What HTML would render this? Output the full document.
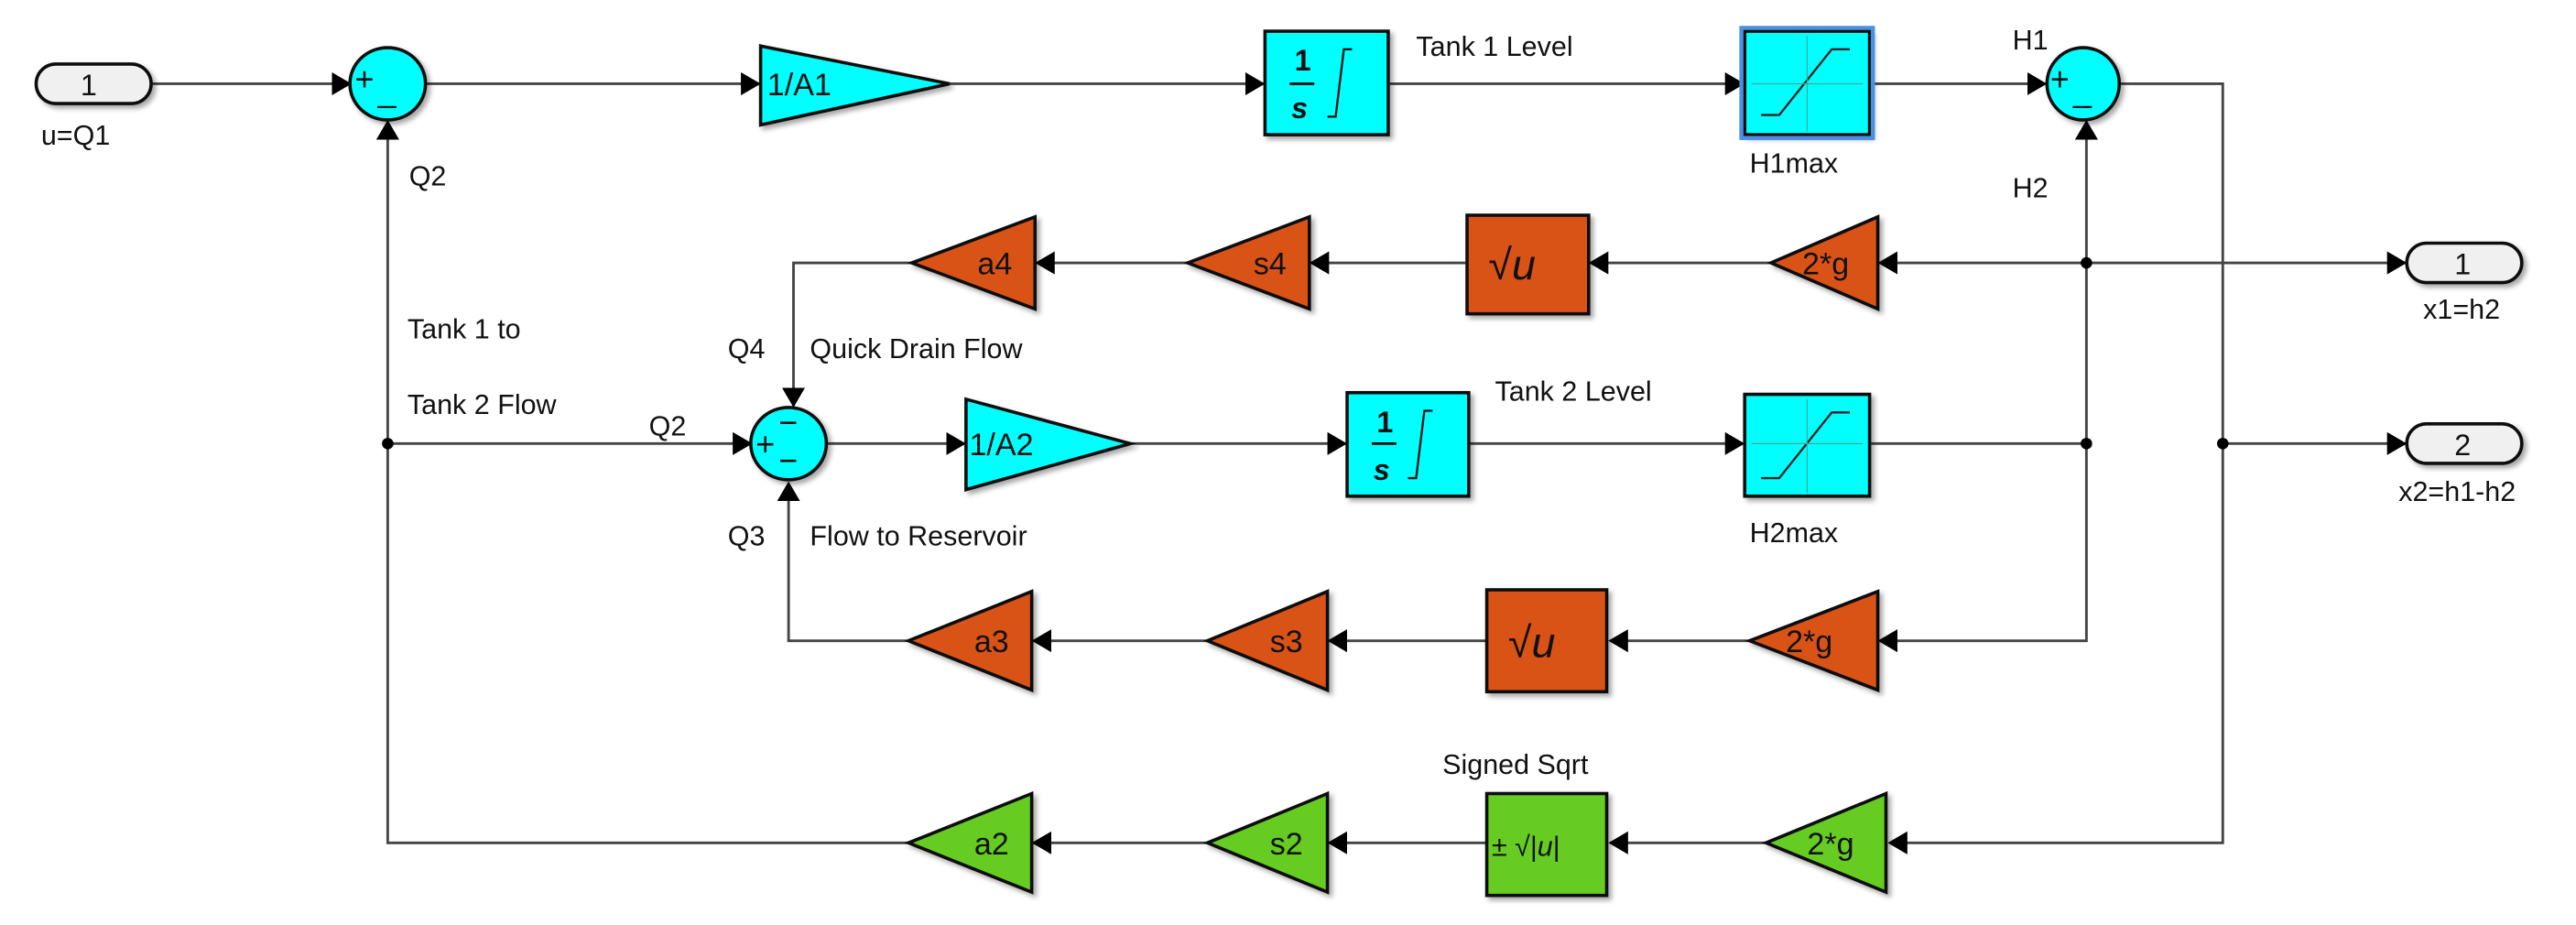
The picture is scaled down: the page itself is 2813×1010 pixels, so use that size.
<!DOCTYPE html>
<html><head><meta charset="utf-8"><style>
html,body{margin:0;padding:0;background:#fff;}
svg{display:block}
text{font-family:"Liberation Sans",sans-serif;fill:#111;}
</style></head><body>
<svg width="2813" height="1010" viewBox="0 0 1568 563" preserveAspectRatio="none" xmlns="http://www.w3.org/2000/svg">
<defs>
<marker id="a" markerWidth="12" markerHeight="14" refX="11" refY="7" orient="auto" markerUnits="userSpaceOnUse"><path d="M0,0 L12,7 L0,14 Z" fill="#000"/></marker>
<filter id="sh" x="-10%" y="-10%" width="130%" height="130%"><feDropShadow dx="2" dy="2" stdDeviation="1.5" flood-color="#000" flood-opacity="0.35"/></filter>
</defs>
<g stroke="#444" stroke-width="1.6" fill="none">
<line x1="92" y1="51" x2="213" y2="51" marker-end="url(#a)"/>
<line x1="259" y1="51" x2="462" y2="51" marker-end="url(#a)"/>
<line x1="578" y1="51" x2="769" y2="51" marker-end="url(#a)"/>
<line x1="846" y1="51" x2="1061" y2="51" marker-end="url(#a)"/>
<line x1="1139" y1="51" x2="1245" y2="51" marker-end="url(#a)"/>
<polyline points="1291,51 1353,51 1353,513 1150,513" marker-end="url(#a)"/>
<line x1="1353" y1="270" x2="1464" y2="270" marker-end="url(#a)"/>
<line x1="1270" y1="270" x2="1270" y2="74" marker-end="url(#a)"/>
<line x1="1270" y1="160" x2="1464" y2="160" marker-end="url(#a)"/>
<line x1="1270" y1="160" x2="1144" y2="160" marker-end="url(#a)"/>
<line x1="1078" y1="160" x2="968" y2="160" marker-end="url(#a)"/>
<line x1="892" y1="160" x2="798" y2="160" marker-end="url(#a)"/>
<line x1="723" y1="160" x2="631" y2="160" marker-end="url(#a)"/>
<polyline points="555,160 483,160 483,247" marker-end="url(#a)"/>
<line x1="236" y1="270" x2="457" y2="270" marker-end="url(#a)"/>
<line x1="503" y1="270" x2="587" y2="270" marker-end="url(#a)"/>
<line x1="688" y1="270" x2="819" y2="270" marker-end="url(#a)"/>
<line x1="894" y1="270" x2="1061" y2="270" marker-end="url(#a)"/>
<line x1="1139" y1="270" x2="1270" y2="270"/>
<polyline points="1270,270 1270,390 1144,390" marker-end="url(#a)"/>
<line x1="1065" y1="390" x2="980" y2="390" marker-end="url(#a)"/>
<line x1="905" y1="390" x2="809" y2="390" marker-end="url(#a)"/>
<line x1="735" y1="390" x2="629" y2="390" marker-end="url(#a)"/>
<polyline points="553,390 480,390 480,294" marker-end="url(#a)"/>
<line x1="1075" y1="513" x2="980" y2="513" marker-end="url(#a)"/>
<line x1="905" y1="513" x2="809" y2="513" marker-end="url(#a)"/>
<line x1="735" y1="513" x2="629" y2="513" marker-end="url(#a)"/>
<polyline points="553,513 236,513 236,74" marker-end="url(#a)"/>
</g>
<g fill="#000">
<circle cx="236" cy="270" r="3.5"/><circle cx="1270" cy="160" r="3.5"/><circle cx="1270" cy="270" r="3.5"/><circle cx="1353" cy="270" r="3.5"/>
</g>
<g stroke="#111" stroke-width="2" filter="url(#sh)">
<rect x="22" y="39" width="70" height="24" rx="12" fill="#f0f0f0"/>
<rect x="1465" y="148" width="70" height="24" rx="12" fill="#f0f0f0"/>
<rect x="1465" y="258" width="70" height="24" rx="12" fill="#f0f0f0"/>
<ellipse cx="236" cy="51" rx="23" ry="22" fill="#00ffff"/>
<ellipse cx="1268" cy="51" rx="22" ry="22" fill="#00ffff"/>
<ellipse cx="480" cy="270" rx="23" ry="22" fill="#00ffff"/>
<polygon points="463,28 578,51 463,76" fill="#00ffff"/>
<polygon points="588,243 688,270 588,298" fill="#00ffff"/>
<rect x="770" y="19" width="75" height="63" fill="#00ffff"/>
<rect x="820" y="239" width="74" height="63" fill="#00ffff"/>
<rect x="1062" y="19" width="76" height="63" fill="#00ffff"/>
<rect x="1062" y="240" width="76" height="62" fill="#00ffff"/>
<polygon points="1143,132 1078,160 1143,188" fill="#d95319"/>
<rect x="893" y="131" width="74" height="60" fill="#d95319"/>
<polygon points="797,132 723,160 797,188" fill="#d95319"/>
<polygon points="630,132 555,160 630,188" fill="#d95319"/>
<polygon points="1143,360 1065,390 1143,420" fill="#d95319"/>
<rect x="905" y="359" width="73" height="62" fill="#d95319"/>
<polygon points="808,360 735,390 808,420" fill="#d95319"/>
<polygon points="628,360 553,390 628,420" fill="#d95319"/>
<polygon points="1148,483 1075,513 1148,543" fill="#66cc22"/>
<rect x="905" y="483" width="73" height="62" fill="#66cc22"/>
<polygon points="808,483 735,513 808,543" fill="#66cc22"/>
<polygon points="628,483 553,513 628,543" fill="#66cc22"/>
</g>
<rect x="1060" y="17" width="80" height="67" fill="none" stroke="#4a90e2" stroke-width="2.5"/>
<g stroke="#222" stroke-width="1.3" fill="none">
<polyline points="1072,70 1083,70 1115,30 1126,30"/>
<polyline points="1072,291 1083,291 1115,251 1126,251"/>
</g>
<g stroke="#4a9" stroke-width="0.7"><line x1="1100" y1="22" x2="1100" y2="80"/><line x1="1066" y1="51" x2="1134" y2="51"/><line x1="1100" y1="243" x2="1100" y2="300"/><line x1="1066" y1="270" x2="1134" y2="270"/></g>
<g font-family="Liberation Serif,serif" font-weight="bold" font-size="18">
<text x="788" y="43">1</text><line x1="785" y1="51" x2="800" y2="51" stroke="#000" stroke-width="1.5"/><text x="786" y="72" font-style="italic">s</text>
<text x="838" y="263">1</text><line x1="835" y1="270" x2="850" y2="270" stroke="#000" stroke-width="1.5"/><text x="836" y="292" font-style="italic">s</text>
</g>
<g stroke="#111" stroke-width="1.3" fill="none">
<path d="M808,71 L813,71 L818,30 L823,30"/><path d="M857,291 L862,291 L867,250 L872,250"/>
</g>
<g font-size="17">
<text x="49" y="58" font-size="18">1</text>
<text x="1494" y="167" font-size="18">1</text>
<text x="1494" y="277" font-size="18">2</text>
<text x="25" y="88">u=Q1</text>
<text x="1475" y="194">x1=h2</text>
<text x="1460" y="305">x2=h1-h2</text>
<text x="467" y="58" font-size="19">1/A1</text>
<text x="590" y="277" font-size="19">1/A2</text>
<text x="862" y="34">Tank 1 Level</text>
<text x="910" y="244">Tank 2 Level</text>
<text x="1065" y="105">H1max</text>
<text x="1065" y="330">H2max</text>
<text x="1225" y="30">H1</text>
<text x="1225" y="120">H2</text>
<text x="249" y="113">Q2</text>
<text x="248" y="206">Tank 1 to</text>
<text x="248" y="252">Tank 2 Flow</text>
<text x="395" y="265">Q2</text>
<text x="443" y="218">Q4</text>
<text x="493" y="218">Quick Drain Flow</text>
<text x="443" y="332">Q3</text>
<text x="493" y="332">Flow to Reservoir</text>
<text x="878" y="471">Signed Sqrt</text>
<g font-size="19">
<text x="1097" y="167">2*g</text>
<text x="763" y="167">s4</text>
<text x="595" y="167">a4</text>
<text x="1087" y="397">2*g</text>
<text x="773" y="397">s3</text>
<text x="593" y="397">a3</text>
<text x="1100" y="520">2*g</text>
<text x="773" y="520">s2</text>
<text x="593" y="520">a2</text>
</g>
<text x="216" y="55" font-size="20">+</text><text x="230" y="62" font-size="20">_</text>
<text x="1248" y="55" font-size="20">+</text><text x="1262" y="62" font-size="20">_</text>
<text x="460" y="277" font-size="20">+</text><text x="474" y="264" font-size="20">−</text><text x="474" y="287" font-size="20">−</text>
</g>
<g font-family="Liberation Serif,serif" font-size="26">
<text x="906" y="170">√<tspan font-style="italic">u</tspan></text>
<text x="918" y="400">√<tspan font-style="italic">u</tspan></text>
<text x="908" y="521" font-size="17">± √|<tspan font-style="italic">u</tspan>|</text>
</g>
</svg>
</body></html>
